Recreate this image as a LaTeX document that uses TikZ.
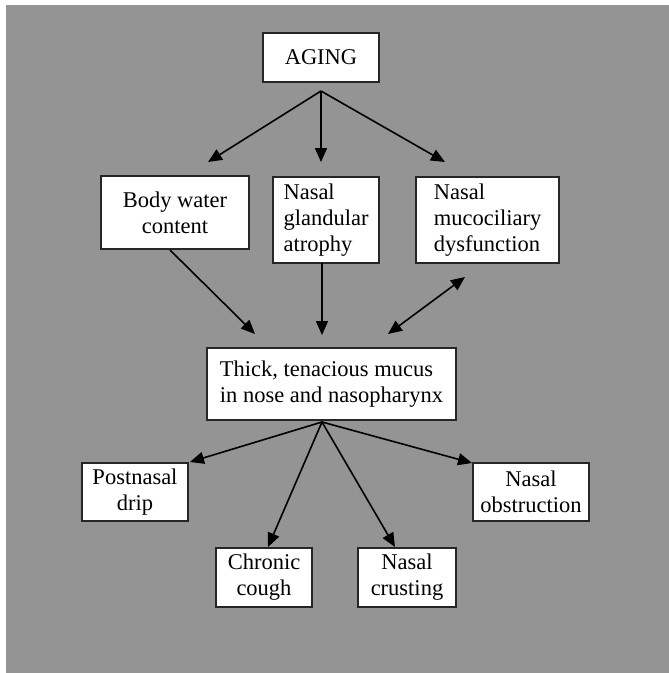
\documentclass[tikz,border=0pt]{standalone}
\usepackage{fontspec}
\setmainfont{Liberation Serif}
\usetikzlibrary{arrows.meta,calc}
\definecolor{bggray}{RGB}{148,148,148}
\begin{document}
\begin{tikzpicture}[x=1pt,y=-1pt,
  box/.style={draw=black!85,line width=1.8pt,fill=white,inner sep=0pt,
    font=\fontsize{22.5}{26}\selectfont},
  arr/.style={line width=1.6pt,-{Triangle[length=14pt,width=12pt]}},
  darr/.style={line width=1.6pt,{Triangle[length=14pt,width=12pt]}-{Triangle[length=14pt,width=12pt]}}]
\useasboundingbox (0,0) rectangle (669,673);
\fill[bggray] (6,5) rectangle (669,673);
\node[box,minimum width=116pt,minimum height=49pt] (aging) at (321,57.5) {AGING};
\node[box,minimum width=148pt,minimum height=73pt,align=center] (body) at (175,212.5) {Body water\\content};
\node[box,minimum width=106pt,minimum height=86pt,align=left] (gland) at (326,220) {Nasal\\glandular\\atrophy};
\node[box,minimum width=143pt,minimum height=86pt,align=left] (muco) at (487.5,220) {Nasal\\mucociliary\\dysfunction};
\node[box,minimum width=249pt,minimum height=72pt,align=left] (thick) at (331.5,384) {Thick, tenacious mucus\\in nose and nasopharynx};
\node[box,minimum width=106pt,minimum height=58pt,align=center] (post) at (135,492) {Postnasal\\drip};
\node[box,minimum width=116pt,minimum height=58pt,align=center] (obst) at (531,492) {Nasal\\obstruction};
\node[box,minimum width=96pt,minimum height=59pt,align=center] (chron) at (264,577.5) {Chronic\\cough};
\node[box,minimum width=98pt,minimum height=59pt,align=center] (crust) at (407,577.5) {Nasal\\crusting};
% connector end points
\coordinate (agout) at (321,91);
\coordinate (bodyin) at (208,162);
\coordinate (glandin) at (321,162);
\coordinate (mucoin) at (445,162);
\coordinate (bodyout) at (170,250);
\coordinate (thickinA) at (255,334);
\coordinate (glandout) at (322,263);
\coordinate (thickinB) at (322,335);
\coordinate (thickinC) at (388,334);
\coordinate (mucoend) at (465,277);
\coordinate (thickout) at (322,422);
\coordinate (postin) at (190,462);
\coordinate (chronin) at (268,547);
\coordinate (crustin) at (395,547);
\coordinate (obstin) at (472,463);
\draw[arr] (agout) -- (bodyin);
\draw[arr] (agout) -- (glandin);
\draw[arr] (agout) -- (mucoin);
\draw[arr] (bodyout) -- (thickinA);
\draw[arr] (glandout) -- (thickinB);
\draw[darr] (thickinC) -- (mucoend);
\draw[arr] (thickout) -- (postin);
\draw[arr] (thickout) -- (chronin);
\draw[arr] (thickout) -- (crustin);
\draw[arr] (thickout) -- (obstin);
\end{tikzpicture}
\end{document}
